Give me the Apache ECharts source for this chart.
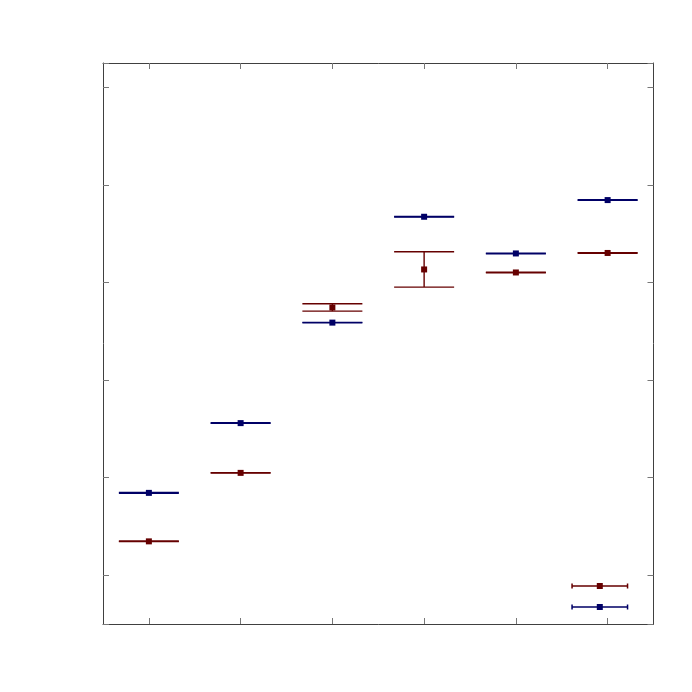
<!DOCTYPE html>
<html>
<head>
<meta charset="utf-8">
<script src="https://cdn.jsdelivr.net/npm/echarts@6/dist/echarts.min.js"></script>
<style>
html,body{margin:0;padding:0;background:#fff;}
#chart{width:692px;height:692px;}
</style>
</head>
<body>
<div id="chart"></div>
<script>
const categories = ['1', '2', '3', '4', '5', '6'];
const seriesNames = ['Series A', 'Series B'];
const redValues  = [1.347, 2.049, 3.744, 4.134, 4.103, 4.303];
const redLow     = [1.344, 2.046, 3.707, 3.953, 4.100, 4.300];
const redHigh    = [1.350, 2.052, 3.782, 4.315, 4.106, 4.306];
const blueValues = [1.844, 2.559, 3.589, 4.674, 4.298, 4.845];
const blueLow    = [1.839, 2.556, 3.586, 4.671, 4.295, 4.842];
const blueHigh   = [1.849, 2.562, 3.592, 4.677, 4.301, 4.848];

const RED = '#660000';
const BLUE = '#000066';
const FRAME = '#404040';

function errData(lo, hi) {
  return categories.map((c, i) => [i, lo[i], hi[i]]);
}
function errRender(color) {
  return function (params, api) {
    const x = api.value(0);
    const p1 = api.coord([x, api.value(1)]);
    const p2 = api.coord([x, api.value(2)]);
    const half = api.size([1, 0])[0] * 0.327;
    const style = { stroke: color, lineWidth: 1.4, fill: null };
    return {
      type: 'group',
      children: [
        { type: 'line', shape: { x1: p1[0], y1: p1[1], x2: p2[0], y2: p2[1] }, style: style },
        { type: 'line', shape: { x1: p1[0] - half, y1: p1[1], x2: p1[0] + half, y2: p1[1] }, style: style },
        { type: 'line', shape: { x1: p2[0] - half, y1: p2[1], x2: p2[0] + half, y2: p2[1] }, style: style }
      ]
    };
  };
}

const icon = 'path://M0,0.5h1.5v5h-1.5z M0,2.2h57v1.6h-57z M55.5,0.5h1.5v5h-1.5z M25.5,0h6v6h-6z';

const axisCommon = {
  axisLine: { show: true, lineStyle: { color: FRAME, width: 1 } },
  axisTick: { show: true, inside: true, length: 6, lineStyle: { color: '#777', width: 1 } },
  axisLabel: { show: false },
  splitLine: { show: false }
};

const chart = echarts.init(document.getElementById('chart'));
chart.setOption({
  animation: false,
  backgroundColor: '#fff',
  grid: { left: 103, right: 38.5, top: 63, bottom: 68, containLabel: false },
  legend: {
    orient: 'vertical',
    left: 566.3,
    top: 578,
    itemWidth: 57,
    itemHeight: 6,
    itemGap: 15,
    icon: icon,
    formatter: () => '',
    data: [seriesNames[0], seriesNames[1]]
  },
  xAxis: [
    Object.assign({ type: 'category', data: categories, boundaryGap: true, position: 'bottom' }, axisCommon,
      { axisTick: Object.assign({}, axisCommon.axisTick, { alignWithLabel: true }) }),
    Object.assign({ type: 'category', data: categories, boundaryGap: true, position: 'top' }, axisCommon,
      { axisTick: Object.assign({}, axisCommon.axisTick, { alignWithLabel: true }) })
  ],
  yAxis: [
    Object.assign({ type: 'value', min: 0.5, max: 6.25, splitNumber: 5, position: 'left' }, axisCommon),
    Object.assign({ type: 'value', min: 0.5, max: 6.25, splitNumber: 5, position: 'right' }, axisCommon)
  ],
  series: [
    {
      name: seriesNames[0] + ' err', type: 'custom', renderItem: errRender(RED),
      data: errData(redLow, redHigh), encode: { x: 0, y: [1, 2] }, z: 2
    },
    {
      name: seriesNames[1] + ' err', type: 'custom', renderItem: errRender(BLUE),
      data: errData(blueLow, blueHigh), encode: { x: 0, y: [1, 2] }, z: 2
    },
    {
      name: seriesNames[0], type: 'scatter', symbol: 'rect', symbolSize: 6,
      itemStyle: { color: RED, opacity: 1 }, data: redValues, z: 3
    },
    {
      name: seriesNames[1], type: 'scatter', symbol: 'rect', symbolSize: 6,
      itemStyle: { color: BLUE, opacity: 1 }, data: blueValues, z: 3
    }
  ]
});
</script>
</body>
</html>
